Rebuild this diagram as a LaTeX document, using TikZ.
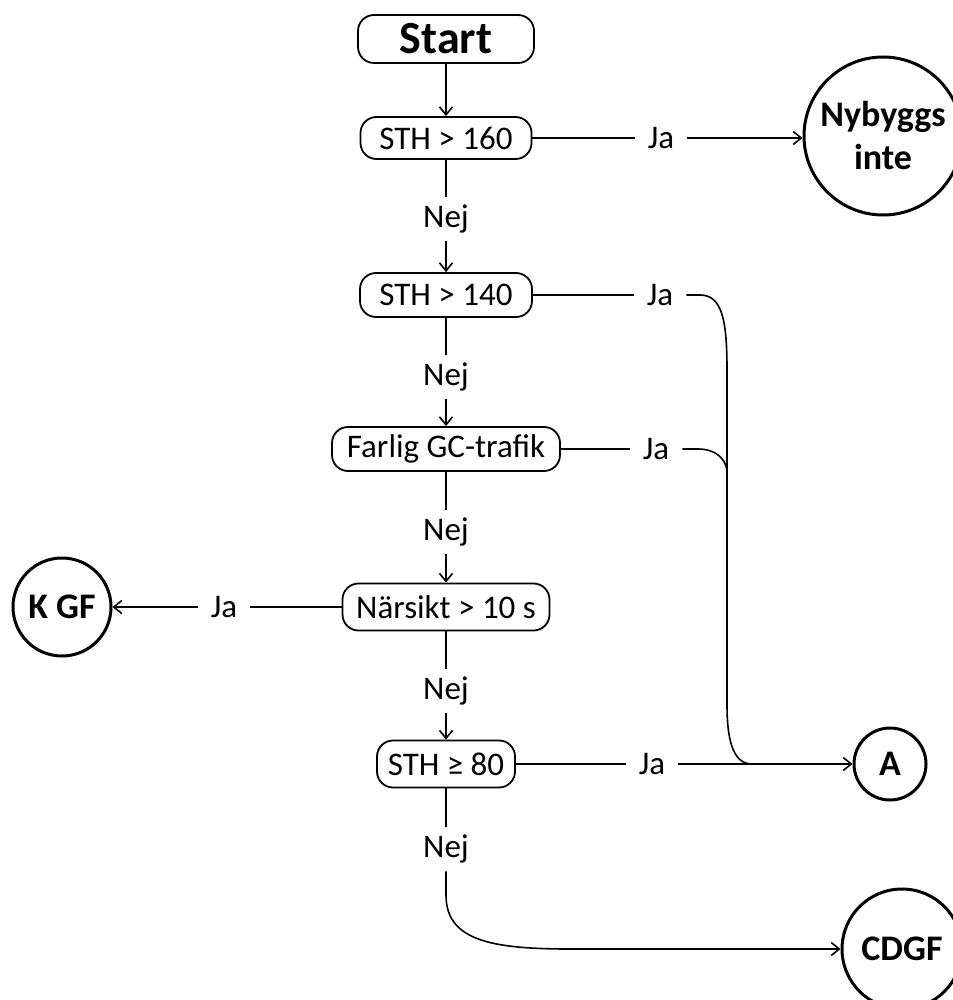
\documentclass[tikz,border=0pt]{standalone}
\usepackage{fontspec}
\setmainfont{Carlito}
\usetikzlibrary{arrows.meta}
\tikzset{
  box/.style={draw, rounded corners=16pt, line width=1.8pt, minimum height=44pt, inner sep=0pt, font=\fontsize{33}{40}\selectfont},
  term/.style={draw, circle, line width=3pt, inner sep=0pt, align=center, font=\bfseries\fontsize{36}{43}\selectfont},
  lbl/.style={inner xsep=13pt, inner ysep=8pt, font=\fontsize{33}{40}\selectfont},
  con/.style={line width=1.6pt},
  arr/.style={con, -{Straight Barb[length=8pt,width=13pt]}}
}
\begin{document}
\begin{tikzpicture}[x=1pt,y=-1pt]
\useasboundingbox (0,0) rectangle (952,1000);
% process boxes
\node[box, minimum width=176pt, minimum height=48pt, font=\bfseries\fontsize{46}{55}\selectfont] (start) at (446,39) {Start};
\node[box, minimum width=171pt, minimum height=42pt] (q1) at (446,138) {STH > 160};
\node[box, minimum width=172pt] (q2) at (446,295) {STH > 140};
\node[box, minimum width=228pt] (q3) at (446,449) {Farlig GC-trafik};
\node[box, minimum width=207pt, minimum height=47pt] (q4) at (446,607) {Närsikt > 10 s};
\node[box, minimum width=138pt, minimum height=47pt] (q5) at (446,764) {STH ≥ 80};
% terminals
\node[term, minimum size=158pt] (t1) at (883,136) {Nybyggs\\inte};
\node[term, minimum size=98pt] (t2) at (62,607) {K GF};
\node[term, minimum size=72pt] (t3) at (890,764) {A};
\node[term, minimum size=120pt] (t4) at (902,949) {CDGF};
% labels
\node[lbl] (j1) at (661,138) {Ja};
\node[lbl] (j2) at (660,295) {Ja};
\node[lbl] (j3) at (656,449) {Ja};
\node[lbl] (j4) at (224,607) {Ja};
\node[lbl] (j5) at (652,764) {Ja};
\node[lbl] (n1) at (446,219) {Nej};
\node[lbl] (n2) at (446,377) {Nej};
\node[lbl] (n3) at (446,532) {Nej};
\node[lbl] (n4) at (446,691) {Nej};
\node[lbl] (n5) at (446,849) {Nej};
% helper coordinates
\coordinate (c2a) at (700,295);
\coordinate (c3a) at (698,449);
\coordinate (vtop) at (727,370);
\coordinate (jn) at (727,470);
\coordinate (vbot) at (727,705);
\coordinate (mg) at (752,764);
\coordinate (b1) at (446,895);
\coordinate (b2) at (570,949);
% main flow
\draw[arr] (start) -- (q1);
\draw[con] (q1) -- (n1);
\draw[arr] (n1) -- (q2);
\draw[con] (q2) -- (n2);
\draw[arr] (n2) -- (q3);
\draw[con] (q3) -- (n3);
\draw[arr] (n3) -- (q4);
\draw[con] (q4) -- (n4);
\draw[arr] (n4) -- (q5);
\draw[con] (q5) -- (n5);
% yes branches
\draw[con] (q1) -- (j1);
\draw[arr] (j1.east) -- (t1.west |- j1.east);
\draw[con] (q4) -- (j4);
\draw[arr] (j4) -- (t2);
\draw[con] (q5) -- (j5);
\draw[arr] (j5) -- (t3);
\draw[con] (q2) -- (j2);
\draw[con] (q3) -- (j3);
\draw[con] (j2.east) -- (c2a) .. controls (722,295) and (727,320) .. (vtop) -- (jn) -- (vbot) .. controls (727,745) and (735,764) .. (mg);
\draw[con] (j3.east) -- (c3a) .. controls (715,449) and (725,458) .. (jn);
% no branch at the end
\draw[arr] (n5.south) -- (b1) .. controls (446,940) and (490,949) .. (b2) -- (t4.west);
\end{tikzpicture}
\end{document}
